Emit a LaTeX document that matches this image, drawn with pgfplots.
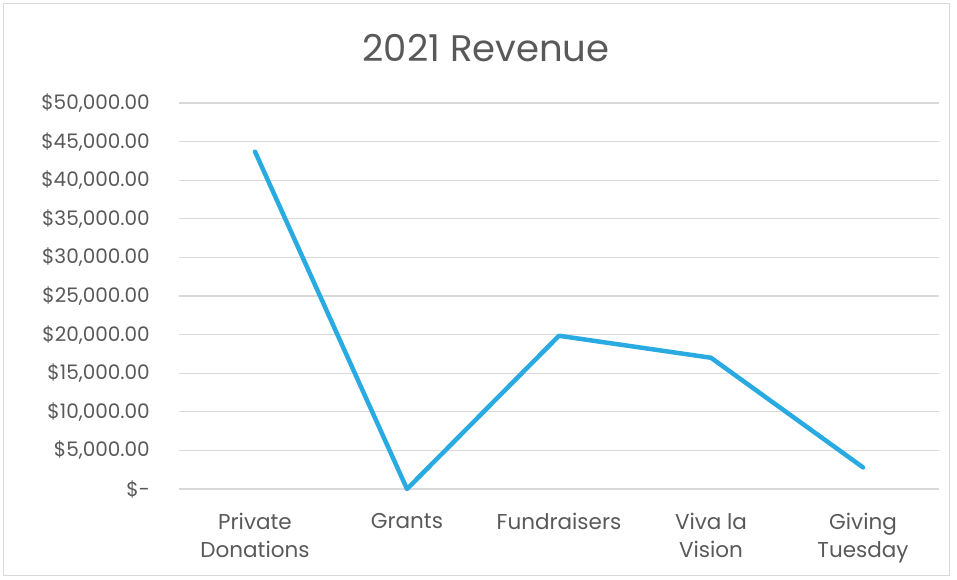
\documentclass[border=0pt]{standalone}
\usepackage{pgfplots}
\pgfplotsset{compat=1.18}
\usepackage{fontspec}
\setmainfont{Poppins}
\definecolor{txt}{HTML}{595959}
\definecolor{grd}{HTML}{D9D9D9}
\definecolor{ln}{HTML}{29ABE2}
\begin{document}
\begin{tikzpicture}
\begin{axis}[
  scale only axis, width=760pt, height=386pt,
  xmin=-0.5, xmax=4.5, ymin=0, ymax=50000,
  scaled y ticks=false,
  axis line style={draw=none},
  xtick={0,1,2,3,4},
  xticklabels={Private\\Donations, Grants, Fundraisers, Viva la\\Vision, Giving\\Tuesday},
  ytick={0,5000,10000,15000,20000,25000,30000,35000,40000,45000,50000},
  yticklabels={\$-\hspace{-8pt}, {\$5,000.00}, {\$10,000.00}, {\$15,000.00}, {\$20,000.00}, {\$25,000.00}, {\$30,000.00}, {\$35,000.00}, {\$40,000.00}, {\$45,000.00}, {\$50,000.00}},
  ymajorgrids,
  major grid style={draw=grd, line width=1.2pt},
  major tick style={draw=none},
  yticklabel style={font=\fontsize{20}{28}\selectfont, text=txt, inner sep=0pt, xshift=-29pt},
  xticklabel style={font=\fontsize{21.5}{28}\selectfont, text=txt, align=center, inner sep=0pt, anchor=north, yshift=-24pt},
  clip=false,
]
\addplot[ln, line width=4.5pt, line join=round, line cap=round] coordinates {
  (0,43700) (1,0) (2,19850) (3,17000) (4,2800)
};
\end{axis}
\node[font=\fontsize{37}{40}\selectfont, text=txt] at (307pt,441pt) {2021 Revenue};
\draw[grd, line width=1pt] (-175pt,-86pt) rectangle (770pt,485pt);
\path (-179pt,-90pt) rectangle (778pt,489pt);
\end{tikzpicture}
\end{document}
